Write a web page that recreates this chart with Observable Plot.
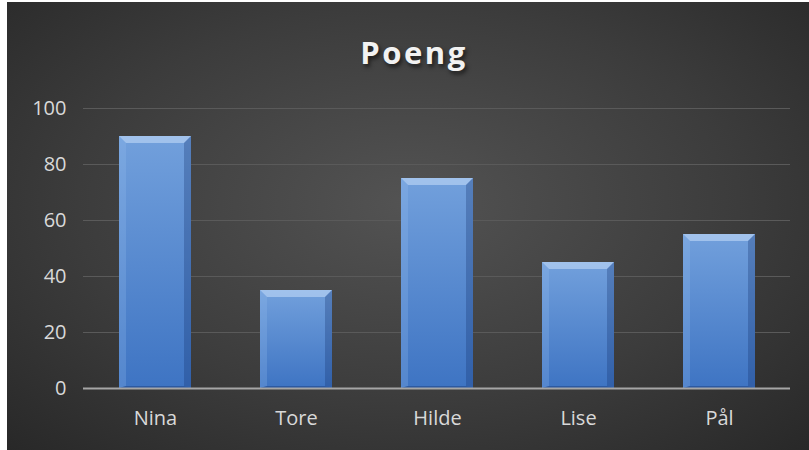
<!DOCTYPE html>
<html>
<head>
<meta charset="utf-8">
<script src="https://cdn.jsdelivr.net/npm/d3@7"></script>
<script src="https://cdn.jsdelivr.net/npm/@observablehq/plot@0.6"></script>
<style>
  html, body { margin: 0; padding: 0; background: #ffffff; }
  #chart {
    position: absolute; left: 7px; top: 2px; width: 802px; height: 448px;
    background: radial-gradient(ellipse 75% 80% at 50% 45%, #535353 0%, #3c3c3c 55%, #262626 100%);
    overflow: hidden;
  }
  #title {
    height: 85px; line-height: 100px; text-align: center;
    font-family: "Open Sans", sans-serif; font-weight: 700; font-size: 31px;
    letter-spacing: 2.5px; color: #f2f2f2; text-shadow: 2px 3px 4px rgba(0,0,0,0.6);
    padding-left: 12px;
  }
  svg { display: block; overflow: visible; }
</style>
</head>
<body>
<div id="chart"><div id="title">Poeng</div></div>
<script>
const categories = ["Nina", "Tore", "Hilde", "Lise", "Pål"];
const values = [90, 35, 75, 45, 55];
const yTicks = [0, 20, 40, 60, 80, 100];

const data = categories.map((name, i) => ({name, value: values[i]}));

const plot = Plot.plot({
  width: 802,
  height: 363,
  marginTop: 21,
  marginBottom: 62,
  marginLeft: 76,
  marginRight: 19,
  style: {background: "transparent", color: "#d9d9d9", fontFamily: "'Open Sans', sans-serif", fontSize: "20px"},
  x: {domain: categories, paddingInner: 0.49, paddingOuter: 0.245, label: null},
  y: {domain: [0, 100], ticks: yTicks, label: null},
  marks: [
    Plot.gridY(yTicks.filter(d => d > 0), {stroke: "#5a5a5a", strokeOpacity: 1, strokeWidth: 1}),
    Plot.axisY({ticks: yTicks, tickSize: 0, tickPadding: 17, label: null, fontSize: 20, fill: "#d9d9d9"}),
    Plot.axisX({tickSize: 0, tickPadding: 22, label: null, fontSize: 20, fill: "#d9d9d9"}),
    Plot.barY(data, {x: "name", y: "value", fill: "url(#barGrad)", className: "bars"}),
    Plot.ruleY([0], {stroke: "#a6a6a6", strokeWidth: 2})
  ]
});

// gradients and bevels
const ns = "http://www.w3.org/2000/svg";
const defs = document.createElementNS(ns, "defs");
defs.innerHTML = `
  <linearGradient id="barGrad" x1="0" y1="0" x2="0" y2="1">
    <stop offset="0" stop-color="#72a0dc"/>
    <stop offset="1" stop-color="#3e74c3"/>
  </linearGradient>`;
plot.insertBefore(defs, plot.firstChild);

const bev = 7;
plot.querySelectorAll("g.bars rect").forEach(r => {
  const x = +r.getAttribute("x"), y = +r.getAttribute("y");
  const w = +r.getAttribute("width"), h = +r.getAttribute("height");
  const g = r.parentNode;
  const poly = (pts, fill) => {
    const p = document.createElementNS(ns, "polygon");
    p.setAttribute("points", pts.map(q => q.join(",")).join(" "));
    p.setAttribute("fill", fill);
    g.appendChild(p);
  };
  poly([[x, y], [x + w, y], [x + w - bev, y + bev], [x + bev, y + bev]], "rgba(200,222,250,0.55)");
  poly([[x, y], [x + bev, y + bev], [x + bev, y + h - 2], [x, y + h]], "rgba(150,190,240,0.25)");
  poly([[x + w, y], [x + w - bev, y + bev], [x + w - bev, y + h - 2], [x + w, y + h]], "rgba(20,50,110,0.3)");
  poly([[x, y + h], [x + bev, y + h - 2], [x + w - bev, y + h - 2], [x + w, y + h]], "rgba(20,50,110,0.4)");
});

document.getElementById("chart").appendChild(plot);
</script>
</body>
</html>
